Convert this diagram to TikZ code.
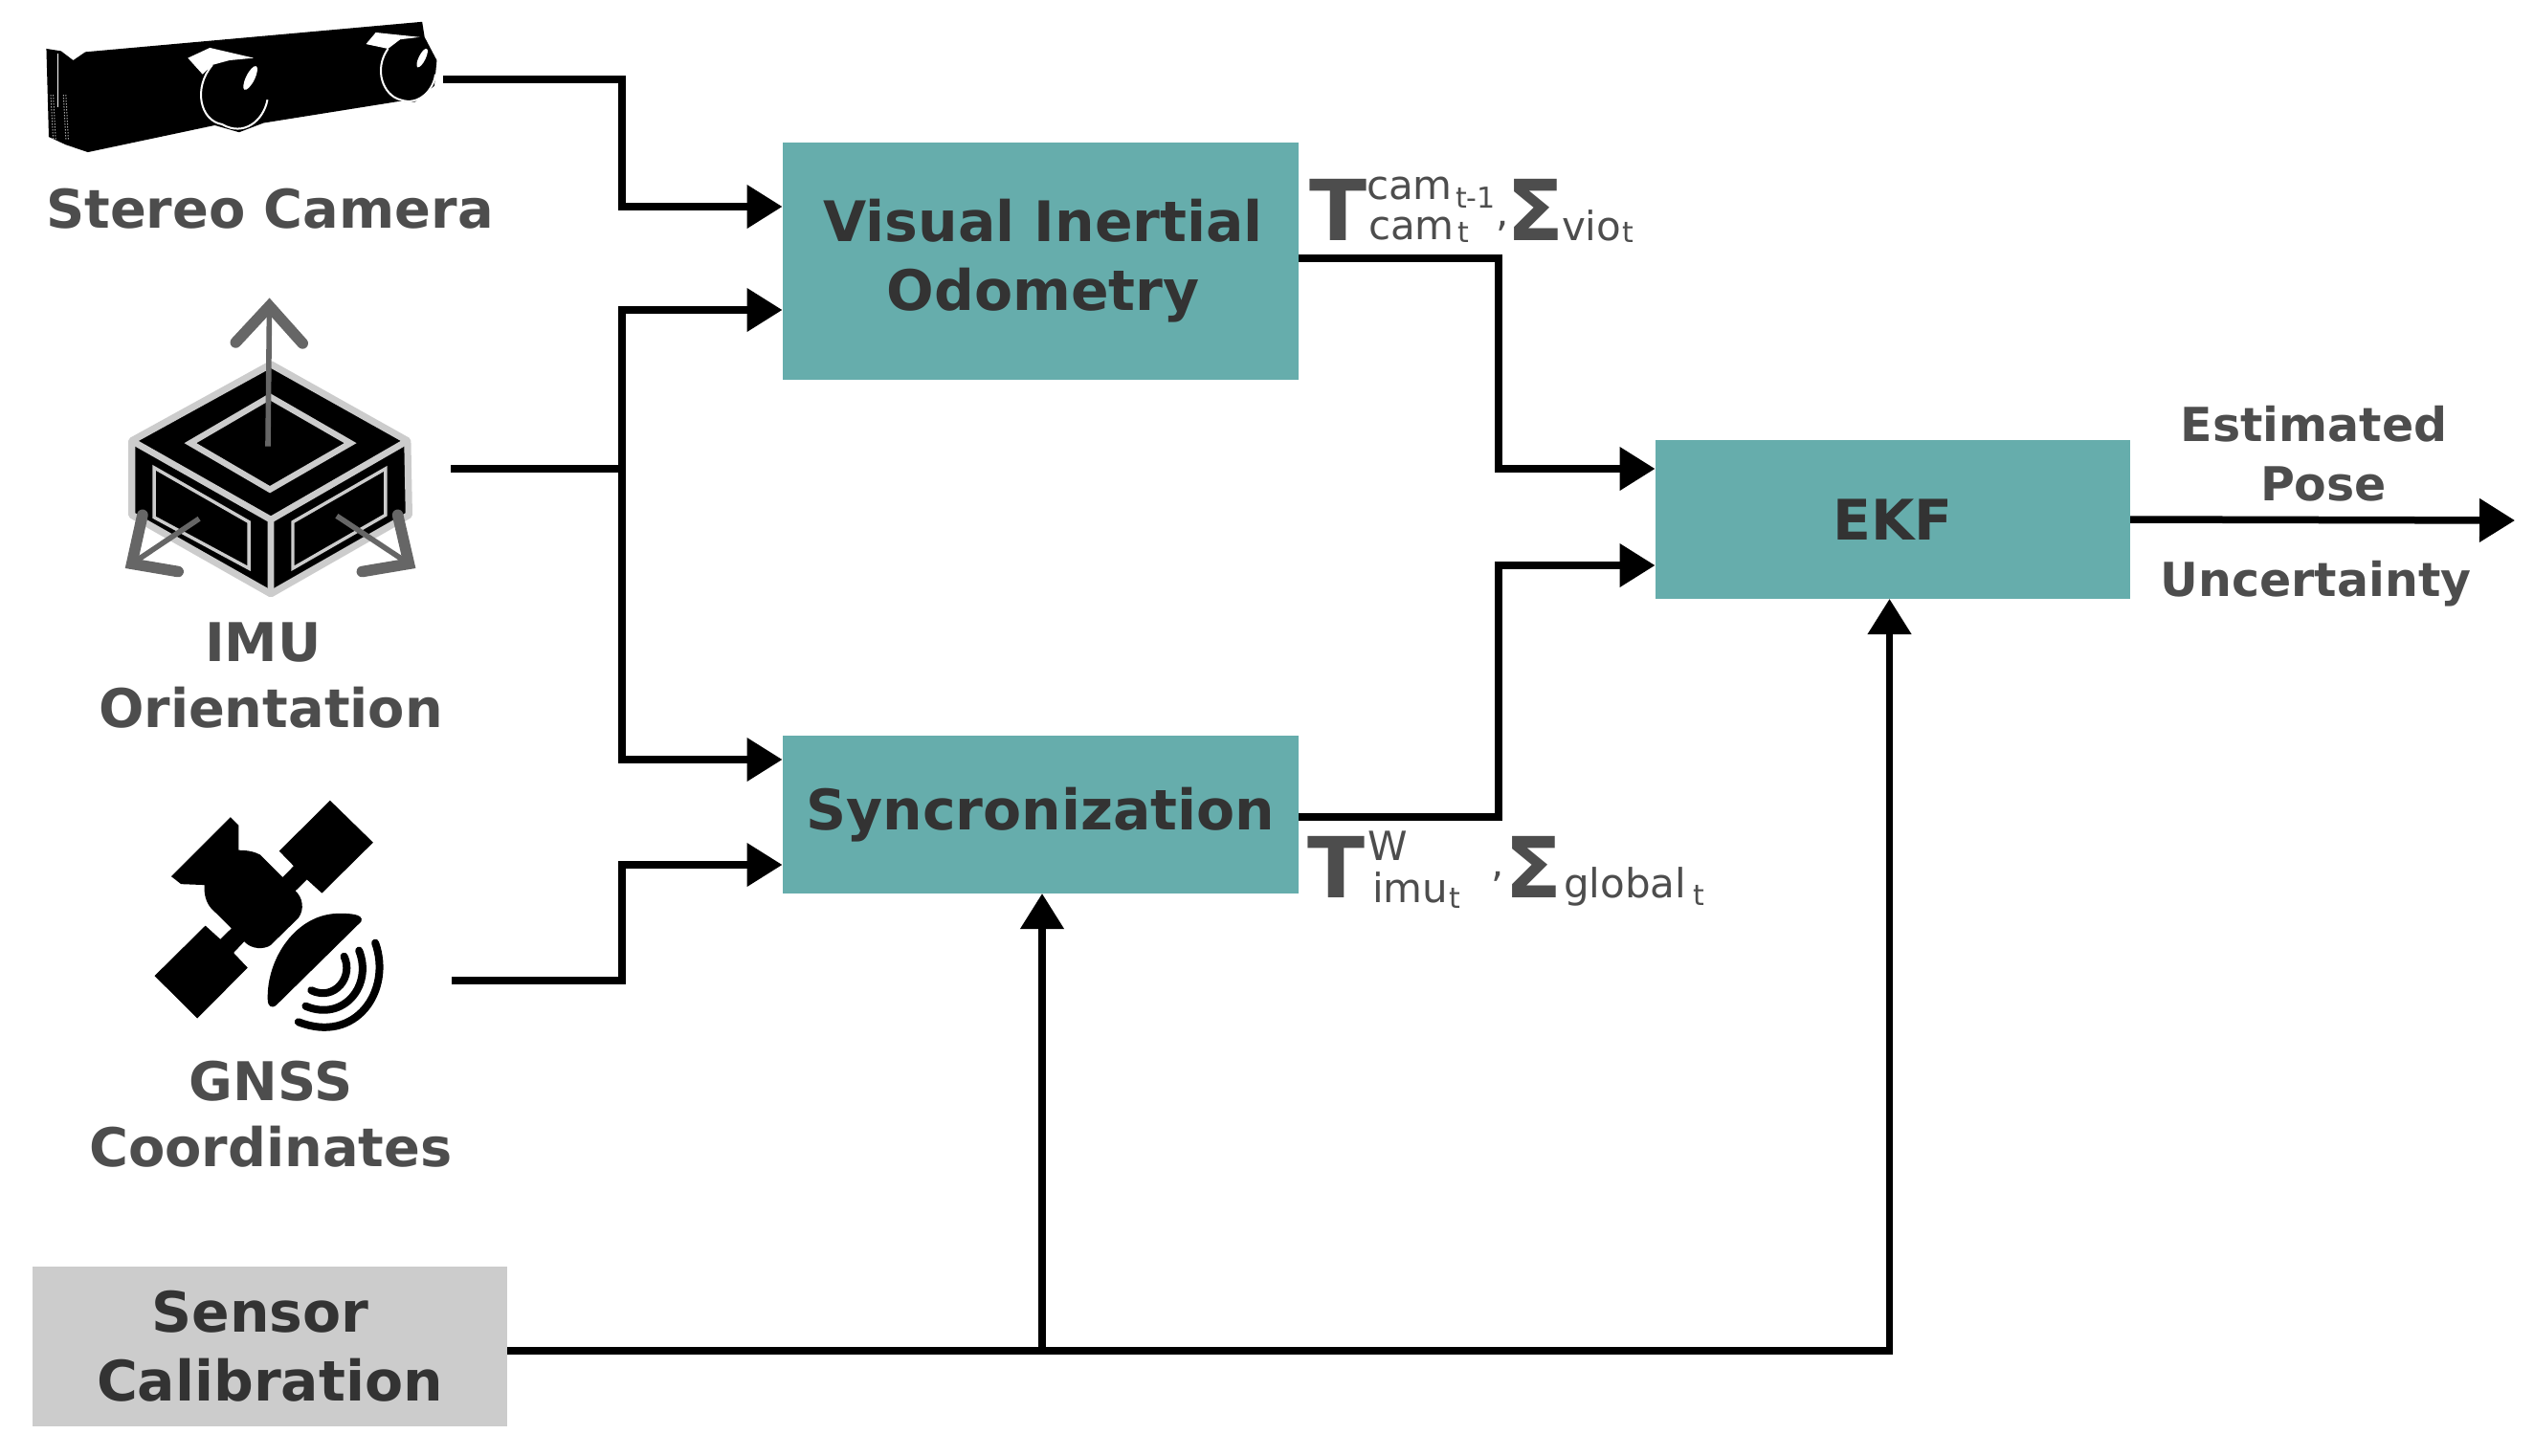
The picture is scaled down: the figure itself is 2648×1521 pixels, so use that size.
\documentclass[tikz,border=0pt]{standalone}
\usepackage{fontspec}
\setmainfont{DejaVu Sans}
\usetikzlibrary{arrows.meta}
\definecolor{teal}{HTML}{66ADAC}
\definecolor{boxgrey}{HTML}{CCCCCC}
\definecolor{darktext}{HTML}{333333}
\definecolor{softtext}{HTML}{4D4D4D}
\definecolor{axisgrey}{HTML}{666666}
\begin{document}
\begin{tikzpicture}[x=0.5pt,y=-0.5pt]
\tikzstyle{every node}+=[inner sep=0pt,outer sep=0pt]
\tikzstyle{block}=[fill=teal,text=darktext,font=\fontsize{29.2}{36}\selectfont\bfseries,align=center]
\tikzstyle{source}=[text=softtext,font=\fontsize{27.9}{34.5}\selectfont\bfseries,align=center]
\tikzstyle{result}=[text=softtext,font=\fontsize{24.5}{31}\selectfont\bfseries,align=center,anchor=base]
\tikzstyle{big}=[text=softtext,font=\fontsize{44}{44}\selectfont\bfseries,anchor=base west]
\tikzstyle{mid}=[text=softtext,font=\fontsize{21}{21}\selectfont,anchor=base west]
\tikzstyle{low}=[text=softtext,font=\fontsize{15}{15}\selectfont,anchor=base west]
\tikzstyle{wire}=[line width=3.75pt,black]
\tikzstyle{into}=[wire,-{Triangle[length=18.5pt,width=22pt]}]
\tikzstyle{axis}=[axisgrey,line width=2.8pt]
\tikzstyle{chevron}=[axisgrey,line width=5.8pt,line cap=round]
\useasboundingbox (0,0) rectangle (2648,1521);

\node [block,minimum width=269.75pt,minimum height=124pt] (vio) at (1087.25,273) {\hspace*{3pt}Visual Inertial\\\hspace*{3pt}Odometry};
\node [block,minimum width=269.75pt,minimum height=82.75pt] (sync) at (1087.25,851.25) {Syncronization};
\node [block,minimum width=248.25pt,minimum height=83pt] (ekf) at (1977.75,543) {EKF};
\node [block,fill=boxgrey,minimum width=248pt,minimum height=83.5pt] (calib) at (282,1407.5) {Sensor\hspace*{10pt}\\Calibration};

\node [source] (camlabel) at (282,218) {Stereo Camera};
\node [source] (imulabel) at (283,706) {IMU\hspace*{8pt}\\Orientation};
\node [source] (gnsslabel) at (283,1165) {GNSS\\Coordinates};

\begin{scope}[xscale=0.51,yscale=0.485]
\fill [black] (175,112) -- (865,47) -- (870,80) -- (895,130) -- (890,185) -- (850,220) -- (820,218) -- (540,265) -- (490,285) -- (440,270) -- (180,328) -- (135,312) -- (100,295) -- (95,105) -- (125,110) -- (150,130) -- cycle;
\foreach \xpos in {104,130} {
\draw [white,line width=0.5pt,densely dotted] (\xpos,205) -- (\xpos+5,300);
\draw [white,line width=0.5pt,densely dotted] (\xpos+5,205) -- (\xpos+10,300);
}
\draw [white,line width=0.6pt] (118,115) -- (118,230);
\fill [white] (385,125) -- (430,103) -- (520,125) -- (470,130) -- (435,140) -- (415,160) -- cycle;
\draw [white,line width=1pt] (435,140) .. controls (395,190) and (410,260) .. (455,268) .. controls (500,295) and (540,260) .. (548,215);
\fill [white,rotate around={-25:(513,168)}] (513,168) ellipse [x radius=9,y radius=28];
\fill [white] (750,95) -- (770,70) -- (860,80) -- (820,85) -- (795,105) -- cycle;
\draw [white,line width=1pt] (795,105) .. controls (765,150) and (785,205) .. (820,215) .. controls (860,230) and (890,190) .. (892,160);
\fill [white,rotate around={-25:(865,125)}] (865,125) ellipse [x radius=7,y radius=22];
\end{scope}

\begin{scope}[xscale=0.51,yscale=0.485]
\filldraw [black,draw=boxgrey,line width=3.6pt,line join=round] (555,785) -- (835,950) -- (838,1110) -- (555,1280) -- (270,1110) -- (270,950) -- cycle;
\draw [boxgrey,line width=3.4pt] (270,950) -- (555,1120) -- (835,950) (555,1120) -- (555,1280);
\draw [boxgrey,line width=3.2pt] (553,855) -- (718,955) -- (553,1055) -- (390,955) -- cycle;
\draw [boxgrey,line width=1.7pt] (316,1008) -- (510,1125) -- (510,1225) -- (316,1115) -- cycle;
\draw [boxgrey,line width=1.7pt] (790,1010) -- (600,1125) -- (600,1225) -- (790,1110) -- cycle;
\draw [axis] (549,962) -- (552,660);
\draw [chevron] (483,738) -- (552,660) -- (620,740);
\draw [axis] (408,1118) -- (270,1215);
\draw [chevron] (292,1110) -- (270,1215) -- (365,1232);
\draw [axis] (690,1112) -- (838,1215);
\draw [chevron] (815,1110) -- (838,1215) -- (742,1232);
\end{scope}

\begin{scope}[shift={(100,780)},xscale=0.446,yscale=0.4726]
\fill [black] (316,157) -- (335,175) -- (335,230) .. controls (360,230) and (375,235) .. (385,240) -- (438,290) -- (464,265) -- (430,232) -- (549,120) -- (650,213) -- (530,325) -- (495,295) -- (468,320) .. controls (485,335) and (490,360) .. (475,380) -- (410,440) .. controls (395,450) and (365,450) .. (348,432) -- (323,457) -- (356,490) -- (238,602) -- (138,508) -- (257,397) -- (292,427) -- (318,403) -- (270,358) .. controls (258,345) and (253,325) .. (255,307) -- (200,305) -- (177,288) -- cycle;
\fill [black] (622,388) -- (424,572) .. controls (412,582) and (403,575) .. (403,560) .. controls (400,470) and (470,370) .. (570,370) .. controls (590,370) and (630,370) .. (622,388) -- cycle;
\draw [black,line width=4pt,line cap=round] (582,465) .. controls (605,510) and (560,565) .. (505,540);
\draw [black,line width=4pt,line cap=round] (617,452) .. controls (650,530) and (580,610) .. (492,575);
\draw [black,line width=4pt,line cap=round] (655,435) .. controls (695,540) and (610,660) .. (475,610);
\end{scope}

\coordinate (camout) at (463,83);
\coordinate (imuout) at (471,490);
\coordinate (gnssout) at (472,1025);
\coordinate (busa) at (650,216);
\coordinate (busb) at (650,324);
\coordinate (busc) at (650,490);
\coordinate (busd) at (650,794);
\coordinate (buse) at (650,904);
\coordinate (vioout) at (vio.east |- 0,270);
\coordinate (vioturn) at (1566,490);
\coordinate (syncout) at (sync.east |- 0,854);
\coordinate (syncturn) at (1566,591);
\coordinate (calibout) at (calib.east |- 0,1412);
\coordinate (calibup) at (1089,1412);
\coordinate (ekfup) at (1974.5,1412);
\coordinate (poseout) at (2628,544);

\draw [into] (camout) -| (busa) -- (vio.west |- busa);
\draw [wire] (imuout) -- (busc);
\draw [into] (busc) |- (vio.west |- busb);
\draw [into] (busc) |- (sync.west |- busd);
\draw [into] (gnssout) -| (buse) -- (sync.west |- buse);
\draw [into] (vioout) -| (vioturn) -- (ekf.west |- vioturn);
\draw [into] (syncout) -| (syncturn) -- (ekf.west |- syncturn);
\draw [into] (calibout) -- (ekfup) -- (ekfup |- ekf.south);
\draw [into] (calibup) -- (calibup |- sync.south);
\draw [into] (ekf.east) -- (poseout);

\node [big] (tvio) at (1368,251) {T};
\node [mid] (camup) at (1428,208) {cam};
\node [low] (camupt) at (1521,217) {t-1};
\node [mid] (camlow) at (1430,250) {cam};
\node [low] (camlowt) at (1523,253) {t};
\node [mid] (commavio) at (1563,236) {,};
\node [big] (svio) at (1574,251) {Σ};
\node [mid] (viosub) at (1632,251) {vio};
\node [low] (viosubt) at (1695,253) {t};

\node [big] (tglobal) at (1366,938) {T};
\node [mid] (wup) at (1429,899) {W};
\node [mid] (imusub) at (1434,943) {imu};
\node [low] (imusubt) at (1514,949) {t};
\node [mid] (commaglobal) at (1558,916) {,};
\node [big] (sglobal) at (1572,938) {Σ};
\node [mid] (globalsub) at (1634,938) {global};
\node [low] (globalsubt) at (1769,946) {t};

\node [result] (poselabel) at (2418,523) {Estimated\\\hspace*{10pt}Pose};
\node [result] (unclabel) at (2420,623) {Uncertainty};
\end{tikzpicture}
\end{document}
